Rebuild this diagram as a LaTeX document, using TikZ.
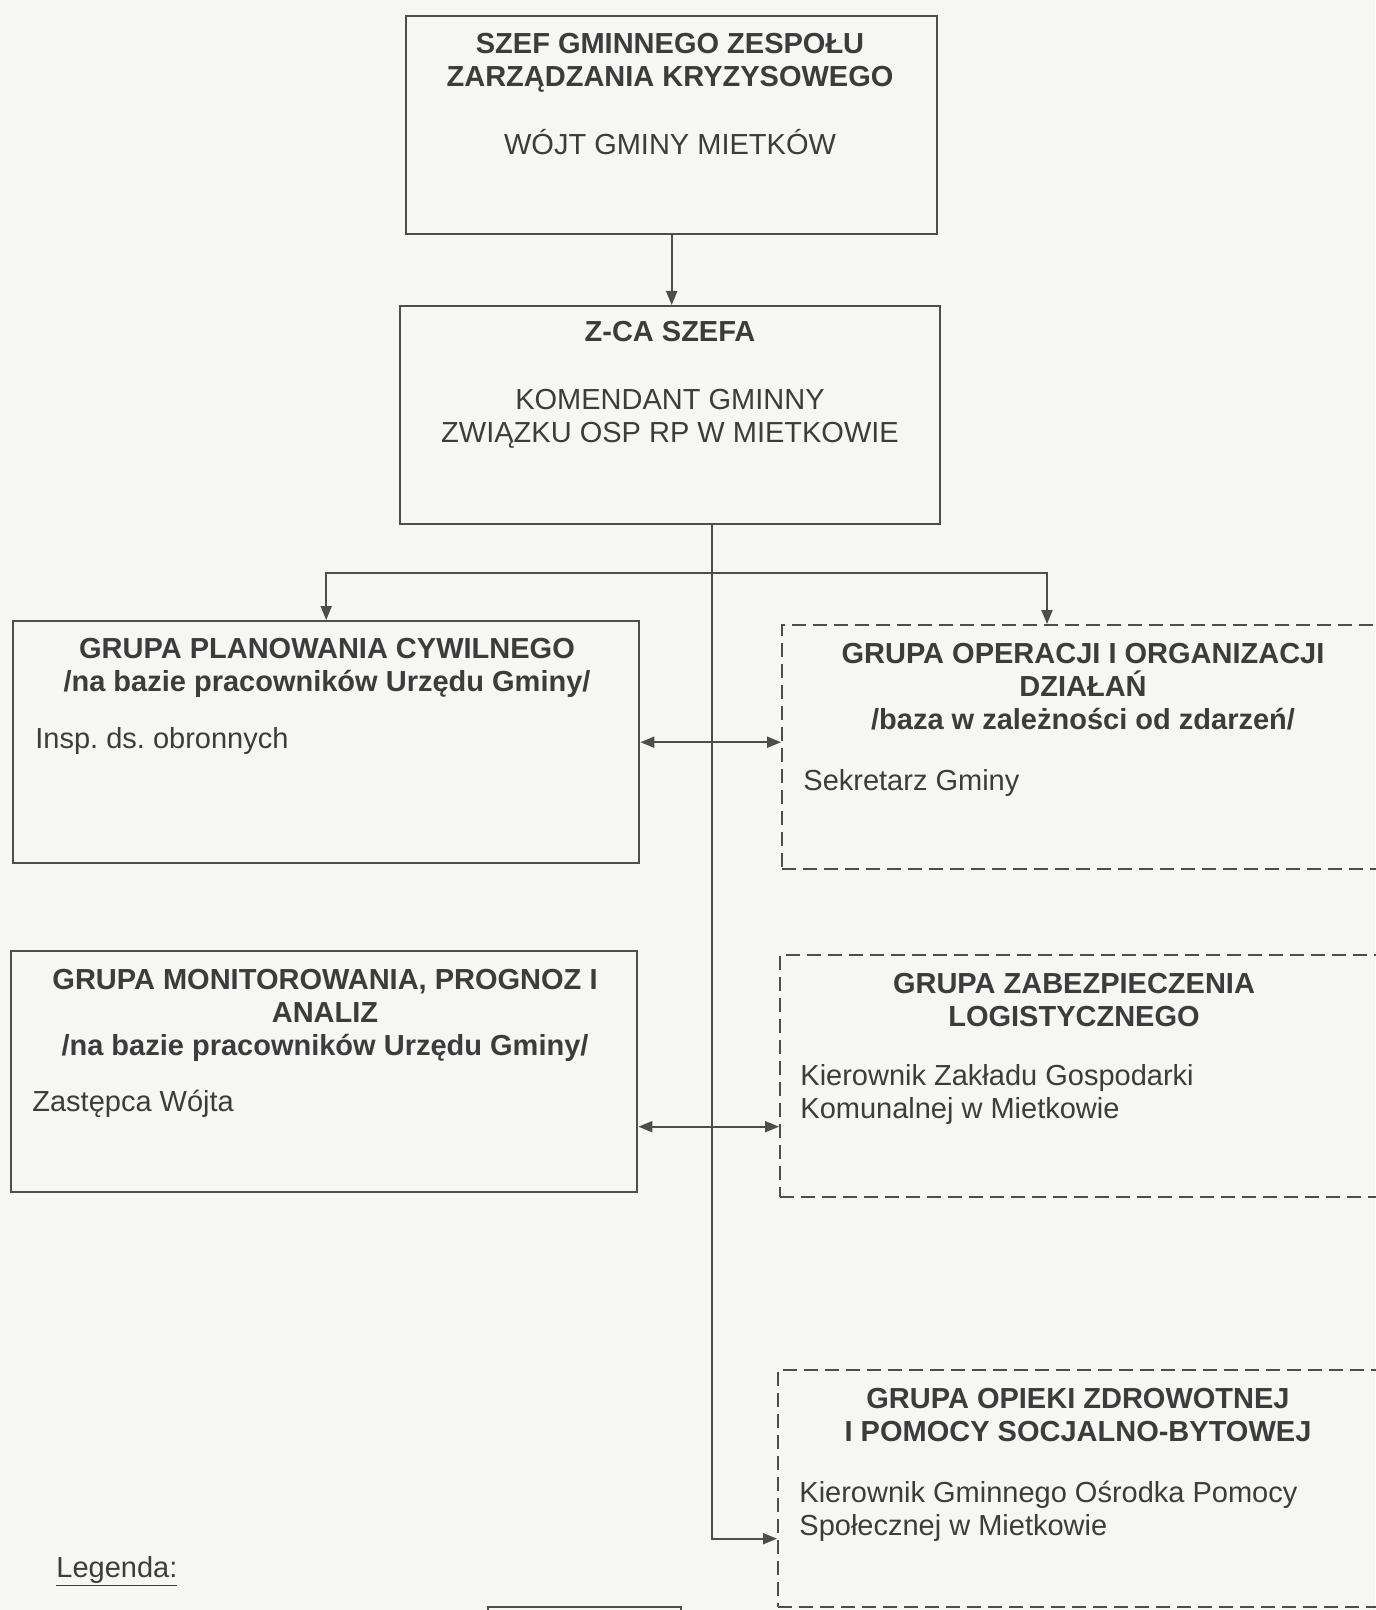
\documentclass[tikz,border=0pt]{standalone}
\usepackage{fontspec}
\setmainfont{Liberation Sans}
\usetikzlibrary{arrows.meta, positioning, calc}
\definecolor{scanpaper}{HTML}{F6F6F4}
\definecolor{scanline}{HTML}{4D4D4D}
\definecolor{scantext}{HTML}{3C3C3C}
\newcommand{\gzkfont}{\fontsize{14.5}{16.5}\selectfont}
\frenchspacing

\begin{document}
\begin{tikzpicture}[x=0.5pt, y=-0.5pt, text=scantext,
    box/.style={draw=scanline, line width=1.2pt, inner sep=0pt, anchor=north west},
    dashbox/.style={box, dash pattern=on 7pt off 3.5pt},
    tytul/.style={anchor=base, align=center, inner sep=0pt, font=\gzkfont\bfseries},
    nazwa/.style={anchor=base, align=center, inner sep=0pt, font=\gzkfont},
    osoba/.style={anchor=base west, align=left, inner sep=0pt, font=\gzkfont},
    linia/.style={draw=scanline, line width=1pt},
    strzalka/.style={linia, -{Triangle[length=7pt, width=5.5pt]}},
    dwustronna/.style={linia, {Triangle[length=7pt, width=5.5pt]}-{Triangle[length=7pt, width=5.5pt]}}]
      \fill[scanpaper] (0,0) rectangle (1375,1610);
      \useasboundingbox (0,0) rectangle (1375,1610);

      \node[box, minimum width=265.5pt, minimum height=109pt] (szef) at (405,15) {};
      \node[tytul] (szeftxt) at (670,87) {SZEF GMINNEGO ZESPOŁU\\ZARZĄDZANIA KRYZYSOWEGO};
      \node[nazwa] (wojt) at (670,155) {WÓJT GMINY MIETKÓW};

      \node[box, minimum width=270pt, minimum height=109pt] (zastepca) at (399,305) {};
      \node[tytul] (zastepcatxt) at (670,342) {Z-CA SZEFA};
      \node[nazwa] (komendant) at (670,442) {KOMENDANT GMINNY\\ZWIĄZKU OSP RP W MIETKOWIE};

      \node[box, minimum width=313pt, minimum height=121pt] (planowanie) at (12,620) {};
      \node[tytul] (planowanietxt) at (327,691)
        {GRUPA PLANOWANIA CYWILNEGO\\/na bazie pracowników Urzędu Gminy/};
      \node[osoba] (inspektor) at (35,748) {Insp. ds. obronnych};

      \node[dashbox, minimum width=302pt, minimum height=122pt] (operacje) at (781,624) {};
      \node[tytul] (operacjetxt) at (1083,729)
        {GRUPA OPERACJI I ORGANIZACJI\\DZIAŁAŃ\\/baza w zależności od zdarzeń/};
      \node[osoba] (sekretarz) at (803,790) {Sekretarz Gminy};

      \node[box, minimum width=313pt, minimum height=120.5pt] (monitorowanie) at (10,950) {};
      \node[tytul] (monitorowanietxt) at (325,1055)
        {GRUPA MONITOROWANIA, PROGNOZ I\\ANALIZ\\/na bazie pracowników Urzędu Gminy/};
      \node[osoba] (zastepcawojta) at (32,1111) {Zastępca Wójta};

      \node[dashbox, minimum width=301.5pt, minimum height=121pt] (logistyka) at (779,954) {};
      \node[tytul] (logistykatxt) at (1074,1026) {GRUPA ZABEZPIECZENIA\\LOGISTYCZNEGO};
      \node[osoba] (zgk) at (800,1118) {Kierownik Zakładu Gospodarki\\Komunalnej w Mietkowie};

      \node[dashbox, minimum width=302.5pt, minimum height=118.5pt] (opieka) at (777,1369) {};
      \node[tytul] (opiekatxt) at (1078,1441)
        {GRUPA OPIEKI ZDROWOTNEJ\\I POMOCY SOCJALNO-BYTOWEJ};
      \node[osoba] (gops) at (799,1535) {Kierownik Gminnego Ośrodka Pomocy\\Społecznej w Mietkowie};

      \node[osoba] (legenda) at (56,1577) {\underline{Legenda:}};
      \node[box, minimum width=96.5pt, minimum height=37pt] (wzor) at (487,1606) {};

      \coordinate (rozgalezienie) at (712,573);
      \coordinate (strzalkaml) at ($(monitorowanie.east)+(0,55)$);

      \draw[strzalka] (szef.south) -- (szef.south |- zastepca.north);
      \draw[strzalka] (zastepca.south -| rozgalezienie) |- ($(opieka.west)+(0,50)$);
      \draw[strzalka] (rozgalezienie) -| (planowanie.north);
      \draw[strzalka] (rozgalezienie) -| ($(operacje.north west)+(266,0)$);
      \draw[dwustronna] (planowanie.east) -- (planowanie.east -| operacje.west);
      \draw[dwustronna] (strzalkaml) -- (strzalkaml -| logistyka.west);
    \end{tikzpicture}
\end{document}
